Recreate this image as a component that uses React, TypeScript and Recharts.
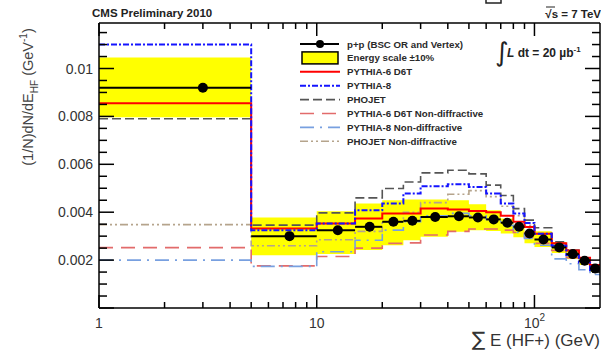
import React from "react";
import { Area, ComposedChart, ErrorBar, Line, Scatter, XAxis, YAxis } from "recharts";

const FONT = "'Liberation Sans', Arial, Helvetica, sans-serif";

// bin edges of sum E(HF+) in GeV
const binEdges = [1, 5, 10, 15, 20, 25, 30, 40, 50, 60, 70, 80, 90, 100, 120, 140, 160, 180, 200];

// (1/N) dN/dE per bin, GeV^-1
const measured = [0.0092, 0.003, 0.00325, 0.00339, 0.0036, 0.00364, 0.0038, 0.00383, 0.00378, 0.0037, 0.00356, 0.00339, 0.00311, 0.00286, 0.00253, 0.00225, 0.00197, 0.00165];
const scaleLow = [0.00796, 0.0022, 0.00225, 0.00242, 0.00262, 0.00283, 0.00297, 0.00318, 0.00325, 0.00322, 0.00311, 0.00295, 0.0027, 0.00255, 0.0023, 0.00205, 0.0018, 0.0015];
const scaleHigh = [0.01046, 0.00378, 0.00404, 0.00436, 0.0045, 0.00453, 0.00453, 0.0045, 0.00433, 0.00408, 0.00374, 0.00346, 0.00318, 0.0032, 0.00276, 0.00242, 0.00212, 0.00182];

const pythia6 = [0.00855, 0.00332, 0.00353, 0.00374, 0.00395, 0.00395, 0.00415, 0.00411, 0.00405, 0.004, 0.00385, 0.0036, 0.00338, 0.0031, 0.0027, 0.0024, 0.0021, 0.0018];
const pythia8 = [0.011, 0.00325, 0.00353, 0.00408, 0.00436, 0.00478, 0.00508, 0.00517, 0.00505, 0.00478, 0.00436, 0.00395, 0.00355, 0.0031, 0.0026, 0.0022, 0.0019, 0.00158];
const phojet = [0.0079, 0.00346, 0.00397, 0.0046, 0.00499, 0.00526, 0.00564, 0.00575, 0.0056, 0.00513, 0.0047, 0.00415, 0.00367, 0.00335, 0.00276, 0.00242, 0.0021, 0.0018];
const pythia6ND = [0.00252, 0.00176, 0.00215, 0.0025, 0.0027, 0.00272, 0.00305, 0.0032, 0.0033, 0.0033, 0.00325, 0.00315, 0.00295, 0.0027, 0.0024, 0.0021, 0.00185, 0.0016];
const pythia8ND = [0.002, 0.00174, 0.00235, 0.00283, 0.00325, 0.0036, 0.00385, 0.00395, 0.00385, 0.0037, 0.00345, 0.00315, 0.0029, 0.00262, 0.00205, 0.00185, 0.0016, 0.0014];
const phojetND = [0.00348, 0.0026, 0.00285, 0.0032, 0.0036, 0.004, 0.0044, 0.00475, 0.0049, 0.00465, 0.00425, 0.00385, 0.00345, 0.0031, 0.00265, 0.0023, 0.002, 0.0017];

const xTicks = [1, 2, 3, 4, 5, 6, 7, 8, 9, 10, 20, 30, 40, 50, 60, 70, 80, 90, 100];
const xMajor = [1, 10, 100];
const yTicks = Array.from({ length: 24 }, (_, i) => i * 0.0005);

type Style = { name: string; values: number[]; color: string; dash?: string; width: number };

// drawing order (ND underneath, PYTHIA-8 on top of the red line)
const mcSeries: Style[] = [
  { name: "PYTHIA-6 D6T Non-diffractive", values: pythia6ND, color: "#e26b6b", dash: "14 8", width: 1.6 },
  { name: "PYTHIA-8 Non-diffractive", values: pythia8ND, color: "#78a0e0", dash: "14 6 2 6", width: 1.6 },
  { name: "PHOJET Non-diffractive", values: phojetND, color: "#b5a48c", dash: "8 3 2 3 2 3", width: 1.6 },
  { name: "PHOJET", values: phojet, color: "#555555", dash: "9 4", width: 1.6 },
  { name: "PYTHIA-6 D6T", values: pythia6, color: "#ff0000", width: 2 },
  { name: "PYTHIA-8", values: pythia8, color: "#1414ff", dash: "6 2 2 2", width: 2 },
];

const legendOrder = ["PYTHIA-6 D6T", "PYTHIA-8", "PHOJET", "PYTHIA-6 D6T Non-diffractive", "PYTHIA-8 Non-diffractive", "PHOJET Non-diffractive"];

const histRows = (values: number[]) =>
  binEdges.map((x, i) => ({ x, v: values[Math.min(i, values.length - 1)] }));

const bandRows = binEdges.map((x, i) => {
  const k = Math.min(i, scaleLow.length - 1);
  return { x, band: [scaleLow[k], scaleHigh[k]] };
});

const points = measured.map((v, i) => {
  const lo = binEdges[i];
  const hi = binEdges[i + 1];
  return { x: (lo + hi) / 2, v, xerr: (hi - lo) / 2 };
});

const isMultiple = (v: number, step: number) => Math.abs(v / step - Math.round(v / step)) < 1e-6;

function LeftTick({ x, y, payload }: any) {
  const v = payload.value;
  const major = isMultiple(v, 0.002);
  const label = isMultiple(v, 0.01) ? "0.01" : v.toFixed(3);
  return (
    <g>
      <line x1={x} x2={x + (major ? 15 : 8)} y1={y} y2={y} stroke="#000" strokeWidth={1.5} />
      {major && v > 0 && (
        <text x={x - 6} y={y + 5} textAnchor="end" fontSize={14} fill="#333" fontFamily={FONT}>
          {label}
        </text>
      )}
    </g>
  );
}

function RightTick({ x, y, payload }: any) {
  const major = isMultiple(payload.value, 0.002);
  return <line x1={x} x2={x - (major ? 15 : 8)} y1={y} y2={y} stroke="#000" strokeWidth={1.5} />;
}

function BottomTick({ x, y, payload }: any) {
  const v = payload.value;
  const major = xMajor.includes(v);
  return (
    <g>
      <line x1={x} x2={x} y1={y} y2={y - (major ? 13 : 6)} stroke="#000" strokeWidth={1.5} />
      {major && (
        <text x={x} y={y + 20} textAnchor="middle" fontSize={14} fill="#333" fontFamily={FONT}>
          {v === 100 ? (
            <>
              10<tspan fontSize={10} dy={-7}>2</tspan>
            </>
          ) : (
            String(v)
          )}
        </text>
      )}
    </g>
  );
}

function TopTick({ x, y, payload }: any) {
  const major = xMajor.includes(payload.value);
  return <line x1={x} x2={x} y1={y} y2={y + (major ? 13 : 6)} stroke="#000" strokeWidth={1.5} />;
}

function LegendBox() {
  const x0 = 300;
  const y0 = 44;
  const dy = 13.9;
  return (
    <g fontFamily={FONT} fontSize={9.7} fontWeight="bold" fill="#2a2a2a">
      <line x1={x0} x2={x0 + 39} y1={y0} y2={y0} stroke="#000" strokeWidth={2} />
      <circle cx={x0 + 20} cy={y0} r={4} fill="#000" />
      <text x={x0 + 47} y={y0 + 3.5}>p+p (BSC OR and Vertex)</text>
      <rect x={x0 + 2} y={y0 + dy - 6} width={36} height={12} fill="#ffff00" stroke="#000" strokeWidth={1.5} />
      <text x={x0 + 47} y={y0 + dy + 3.5}>Energy scale ±10%</text>
      {legendOrder.map((name, i) => {
        const s = mcSeries.find((m) => m.name === name)!;
        const yy = y0 + dy * (i + 2);
        return (
          <g key={name}>
            <line x1={x0} x2={x0 + 40} y1={yy} y2={yy} stroke={s.color} strokeWidth={s.width} strokeDasharray={s.dash} />
            <text x={x0 + 47} y={yy + 3.5}>{name}</text>
          </g>
        );
      })}
    </g>
  );
}

function Annotations() {
  return (
    <svg width={601} height={350} style={{ position: "absolute", left: 0, top: 0, pointerEvents: "none" }}>
      <text x={92} y={17} fontFamily={FONT} fontSize={11.5} fontWeight="bold" fill="#222">
        CMS Preliminary 2010
      </text>
      <text x={601} y={18} textAnchor="end" fontFamily={FONT} fontSize={11.5} fontWeight="bold" fill="#222">
        √s = 7 TeV
      </text>
      <line x1={546} x2={555} y1={7} y2={7} stroke="#222" strokeWidth={1} />
      <path d="M486 0 V3 H501 V0" fill="none" stroke="#222" strokeWidth={1.5} />
      <text x={495} y={61} fontFamily="DejaVu Sans, sans-serif" fontSize={26} fill="#222">
        ∫
      </text>
      <text x={507} y={57} fontFamily={FONT} fontSize={12} fontWeight="bold" fill="#222">
        <tspan fontStyle="italic">L</tspan> dt = 20 µb<tspan fontSize={8} dy={-5}>-1</tspan>
      </text>
      <text transform="translate(33,97) rotate(-90)" textAnchor="middle" fontFamily={FONT} fontSize={14.5} fill="#444">
        (1/N)dN/dE<tspan fontSize={10} dy={5}>HF</tspan>
        <tspan dy={-5}> (GeV</tspan>
        <tspan fontSize={10} dy={-6}>-1</tspan>
        <tspan dy={6}>)</tspan>
      </text>
      <text x={600} y={346} textAnchor="end" fontFamily={FONT} fontSize={17} fill="#333">
        <tspan fontFamily="DejaVu Sans, sans-serif" fontSize={20}>∑</tspan> E (HF+) (GeV)
      </text>
      <LegendBox />
    </svg>
  );
}

export default function App() {
  const axisLine = { stroke: "#000", strokeWidth: 1.5 };
  return (
    <div style={{ position: "absolute", left: 0, top: 0, width: 601, height: 350, background: "#fff" }}>
      <ComposedChart width={601} height={350} margin={{ top: 22, right: 0, bottom: 12, left: 39 }}>
        <XAxis
          dataKey="x"
          type="number"
          scale="log"
          domain={[1, 200]}
          allowDataOverflow
          ticks={xTicks}
          interval={0}
          tick={<BottomTick />}
          tickSize={0}
          tickMargin={0}
          tickLine={false}
          axisLine={axisLine}
          height={30}
        />
        <XAxis
          xAxisId="top"
          orientation="top"
          dataKey="x"
          type="number"
          scale="log"
          domain={[1, 200]}
          allowDataOverflow
          ticks={xTicks}
          interval={0}
          tick={<TopTick />}
          tickSize={0}
          tickMargin={0}
          tickLine={false}
          axisLine={axisLine}
          height={1}
        />
        <YAxis
          type="number"
          domain={[0, 0.0119]}
          allowDataOverflow
          ticks={yTicks}
          interval={0}
          tick={<LeftTick />}
          tickSize={0}
          tickMargin={0}
          tickLine={false}
          axisLine={axisLine}
          width={60}
        />
        <YAxis
          yAxisId="right"
          orientation="right"
          type="number"
          domain={[0, 0.0119]}
          allowDataOverflow
          ticks={yTicks}
          interval={0}
          tick={<RightTick />}
          tickSize={0}
          tickMargin={0}
          tickLine={false}
          axisLine={axisLine}
          width={1}
        />
        <Area
          data={bandRows}
          dataKey="band"
          type="stepAfter"
          fill="#ffff00"
          fillOpacity={1}
          stroke="none"
          isAnimationActive={false}
        />
        {mcSeries.map((s) => (
          <Line
            key={s.name}
            data={histRows(s.values)}
            dataKey="v"
            name={s.name}
            type="stepAfter"
            stroke={s.color}
            strokeWidth={s.width}
            strokeDasharray={s.dash}
            dot={false}
            activeDot={false}
            isAnimationActive={false}
          />
        ))}
        <Scatter
          data={points}
          dataKey="v"
          name="p+p (BSC OR and Vertex)"
          fill="#000"
          shape={(p: any) => <circle cx={p.cx} cy={p.cy} r={5} fill="#000" />}
          isAnimationActive={false}
        >
          <ErrorBar dataKey="xerr" direction="x" width={0} stroke="#000" strokeWidth={2} />
        </Scatter>
      </ComposedChart>
      <Annotations />
    </div>
  );
}
